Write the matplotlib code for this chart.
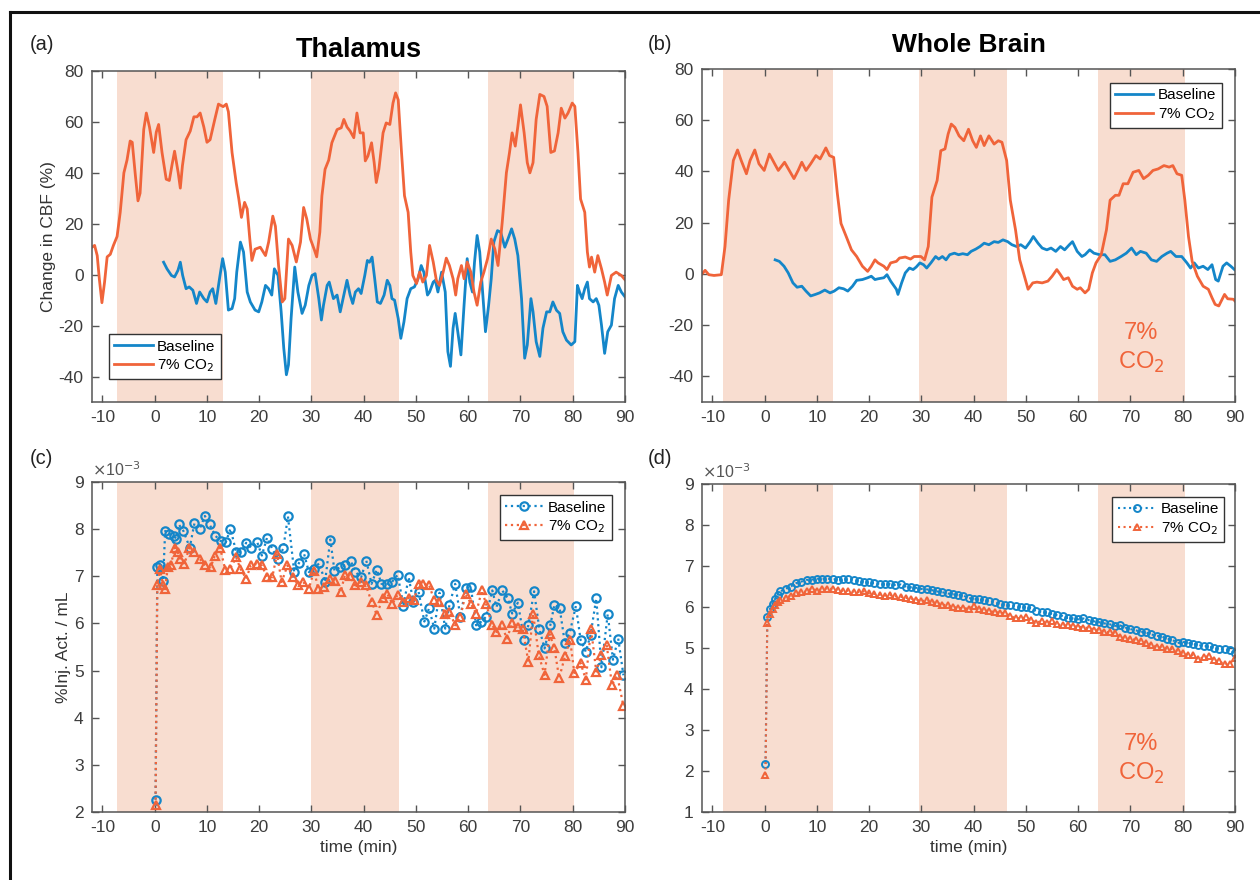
import matplotlib
matplotlib.use("Agg")
import matplotlib.pyplot as plt
from matplotlib.lines import Line2D
import numpy as np

plt.rcParams['font.family'] = ['Liberation Sans', 'DejaVu Sans']
plt.rcParams['axes.unicode_minus'] = False

BLUE = '#1486c9'
ORANGE = '#f0643a'
SHADE = '#f8ddd0'
AXC = '#555555'

# ---------- (a) Thalamus, change in CBF (%) ----------
ta_co2 = [-12, -11.5, -11, -10.6, -10.1, -9.6, -9.1, -8.5, -7.9, -7.2, -6.6, -5.9, -5.3, -4.7, -4.3,
          -3.7, -3.2, -2.8, -2.1, -1.6, -1.0, -0.2, 0.3, 0.75, 1.4, 2.2, 2.8, 3.3, 3.8, 4.5, 4.9,
          5.3, 6.0, 6.8, 7.5, 8.1, 8.7, 9.4, 10.0, 10.6, 11.5, 12.2, 13.1, 13.7, 14.1, 14.8, 15.6,
          16.1, 16.6, 17.2, 17.7, 18.2, 18.6, 19.2, 20.2, 21.2, 21.8, 22.6, 23.1, 23.7, 24.4, 24.9,
          25.6, 26.3, 27.1, 27.9, 28.5, 29.1, 29.8, 30.6, 31.0, 31.6, 32.0, 32.6, 33.3, 33.9, 34.9,
          35.7, 36.2, 36.8, 37.4, 38.1, 38.7, 39.3, 39.9, 40.3, 40.8, 41.5, 42.0, 42.4, 42.9, 43.7,
          44.3, 45.0, 45.6, 46.1, 46.6, 47.2, 47.8, 48.5, 49.0, 49.4, 50.1, 50.7, 51.3, 52.0, 52.6,
          53.3, 53.9, 54.5, 55.2, 55.8, 56.4, 57.1, 57.6, 58.0, 58.7, 59.2, 59.8, 60.5, 61.1, 61.7,
          62.4, 63.0, 63.7, 64.4, 65.1, 65.7, 66.5, 67.3, 67.9, 68.4, 69.0, 69.5, 70.0, 70.7, 71.3,
          71.8, 72.4, 73.0, 73.7, 74.5, 75.1, 75.8, 76.5, 77.2, 77.8, 78.5, 79.1, 79.9, 80.4, 81.0,
          81.5, 82.3, 82.8, 83.2, 83.6, 84.2, 84.8, 85.5, 86.1, 86.6, 87.4, 88.3, 89.3, 90.0]
ya_co2 = [10.8, 11.5, 7.5, -1.6, -11, -3, 7, 8, 11.5, 15, 24.5, 40, 45, 52.5, 52,
          39, 29, 32, 57, 63.5, 58, 48, 56, 59, 48, 37.5, 37, 43, 48.5, 40, 34,
          42.7, 53, 56.4, 62, 62, 63.5, 58, 52, 53, 61, 67, 66, 67, 64, 48, 36,
          29.7, 22.5, 28.4, 25.8, 14, 5.6, 10, 10.8, 7.5, 12.8, 23, 19, 3.6, -10.7, -9.4,
          14, 11.5, 5, 12.8, 26.4, 21.9, 14, 9.5, 7, 16.7, 31, 41.4, 45, 51.8, 57,
          57.7, 61, 58, 56.4, 53.8, 63.5, 55.7, 55.7, 44.7, 46.6, 51.8, 44, 36.2, 41.4, 55.7,
          59.6, 59, 67.4, 71.4, 68.7, 49, 31, 24.5, 8.9, -0.3, -3.5, 1, -2.9, -0.3, 11.5,
          5, -2.2, -4.2, 1, 6.5, 3.6, -1.6, -8, -1.6, 3.6, -1.6, 5, 1, -6.8, -12,
          -2.9, 1, 6.3, 14, 10, 3.6, 20.5, 40, 48, 55.7, 50.5, 58.3, 66.7, 55.7, 44,
          40, 44, 61, 70.8, 70, 66.1, 48, 48.6, 55.7, 65.4, 61.5, 63.5, 67.4, 66.1, 48,
          29.7, 24.5, 8.9, 3, 6.9, 1, 7.5, 2.3, -2.9, -8, -0.3, 1, -0.3, -2.0]

ta_base = [1.7, 2.35, 3.2, 3.8, 4.45, 4.9, 5.35, 6.0, 6.6, 7.3, 8.0, 8.6, 9.4, 10.0, 10.6, 11.1,
           11.7, 12.4, 13.0, 13.5, 14.1, 14.8, 15.3, 15.7, 16.4, 17.0, 17.7, 18.3, 19.2, 19.9, 20.5,
           21.2, 21.8, 22.4, 22.9, 23.6, 24.2, 24.7, 25.2, 25.6, 26.1, 26.8, 27.4, 28.2, 28.8, 29.5,
           30.1, 30.7, 31.4, 31.9, 32.3, 33.0, 33.4, 34.2, 34.9, 35.5, 36.2, 36.8, 37.4, 37.9, 38.4,
           39.0, 39.5, 40.2, 40.7, 41.1, 41.6, 42.1, 42.6, 43.2, 43.9, 44.5, 45.0, 45.4, 45.9, 46.6,
           47.1, 47.7, 48.3, 49.0, 49.7, 50.4, 51.0, 51.5, 52.2, 52.6, 53.3, 53.7, 54.2, 54.9, 55.6,
           56.1, 56.6, 57.1, 57.5, 58.0, 58.6, 59.2, 59.8, 60.3, 60.8, 61.2, 61.7, 62.2, 62.7, 63.3,
           63.9, 64.4, 64.9, 65.6, 66.2, 67.0, 67.6, 68.3, 68.9, 69.5, 70.2, 70.8, 71.3, 72.0, 72.4,
           73.0, 73.7, 74.3, 75.0, 75.6, 76.2, 76.9, 77.5, 78.1, 78.8, 79.7, 80.4, 80.9, 81.3, 81.8,
           82.3, 82.8, 83.2, 83.9, 84.5, 85.0, 85.5, 86.1, 86.7, 87.4, 88.0, 88.7, 89.3, 90.0]
ya_base = [4.9, 2.3, -0.3, -0.9, 1.7, 4.9, -0.3, -5.5, -4.8, -6.1, -11.3, -6.8, -9.4, -10.7, -6.8, -5.5,
           -11.3, -1.6, 6.3, 1, -13.9, -13.3, -9.4, 1, 12.8, 8.9, -6.8, -10.7, -13.9, -14.6, -10.7,
           -4.2, -5.5, -8, 2.3, -0.3, -14.6, -28.9, -39.3, -35.4, -17.2, 3, -6.8, -15.2, -12, -4.2,
           -0.3, 0.4, -9.4, -17.8, -12, -4.2, -2.9, -9.4, -8, -14.6, -8, -2.2, -8, -11.3, -6.8,
           -5.5, -7.4, -0.3, 5.6, 4.9, 6.9, -1.6, -10.7, -11.3, -8, -2.2, -4.2, -9.4, -10, -17.2,
           -25, -18.5, -9.4, -5.5, -4.8, -1.6, 3.6, 1, -8, -6.8, -2.9, -2.2, -6.8, 1, -6.8,
           -30.2, -36, -21, -15.2, -22.4, -31.5, -12, 6.3, -2.9, -6.8, 4.9, 15.4, 8.9, -5.5, -22.4,
           -12, -1.6, 12.8, 17.3, 16.7, 10.8, 14, 18, 14, 7.5, -9.4, -32.8, -27.6, -9.4, -14.6,
           -26.3, -32.1, -21, -14.6, -14.6, -10.7, -14, -15.2, -22.4, -25.7, -27.6, -26.3, -4.2, -6.8, -9.4,
           -5.5, -2.9, -9.4, -10.7, -9.4, -12, -19.8, -30.9, -22.4, -19.8, -9.4, -4.2, -6.8, -8.7]

# ---------- (b) Whole brain, change in CBF (%) ----------
tb_co2 = [-12, -11.4, -10.7, -9.7, -8.3, -7.6, -6.9, -6.0, -5.2, -4.5, -3.5, -2.8, -1.9, -1.1, -0.1,
          0.9, 1.9, 2.6, 3.8, 4.7, 5.6, 6.4, 7.1, 7.9, 8.8, 9.8, 10.6, 11.7, 12.4, 13.2, 13.9, 14.6,
          15.6, 16.6, 17.6, 18.7, 19.7, 20.4, 21.1, 21.7, 22.8, 23.4, 24.1, 25.2, 25.8, 26.9, 27.9,
          28.6, 29.9, 30.6, 31.3, 32.0, 33.0, 33.7, 34.5, 35.1, 35.7, 36.4, 37.2, 38.1, 39.0, 39.8,
          40.5, 41.3, 42.0, 42.9, 43.9, 44.7, 45.4, 46.3, 47.0, 48.0, 48.8, 49.7, 50.4, 51.3, 52.1,
          53.1, 54.2, 55.0, 55.9, 56.6, 57.2, 58.1, 58.9, 59.8, 60.4, 61.3, 62.0, 62.7, 63.4, 64.4,
          65.4, 66.1, 67.1, 67.8, 68.6, 69.5, 70.5, 71.6, 72.5, 73.4, 74.3, 75.3, 76.4, 77.4, 78.1,
          78.9, 79.8, 80.4, 81.1, 81.8, 82.8, 83.9, 84.9, 85.6, 86.2, 86.9, 88.0, 88.6, 89.7, 90.0]
yb_co2 = [0, 1.4, -0.3, -0.6, -0.3, 10.7, 28.8, 44.3, 48.4, 44.3, 39.1, 44.3, 48.4, 43, 40.4,
          46.8, 43, 40.4, 43.6, 40.4, 37.2, 40.4, 43.6, 40.4, 43, 46.2, 44.9, 49.2, 46.2, 45.5, 31.4, 19.7,
          14.6, 9.4, 6.8, 3, 1, 3, 5.5, 4.3, 3, 1.7, 4.3, 4.9, 6.2, 6.6, 5.8,
          6.8, 6.8, 5.5, 10.7, 30, 36.5, 48.1, 48.8, 54.6, 58.5, 57.2, 53.9, 52, 56.5, 52,
          49.4, 53.9, 50.1, 53.9, 50.7, 52, 51.4, 44.3, 28.8, 17.2, 5.5, -0.9, -6, -3.5, -3.2,
          -3.5, -2.8, -0.9, 1.7, -0.3, -2.2, -1.5, -4.8, -6, -5.4, -7.4, -6, 0.4, 4.3, 7.5,
          17.2, 28.8, 30.7, 30.7, 35.2, 35.2, 39.7, 40.4, 37.2, 38.5, 40.4, 41, 42.3, 41.7, 42.3,
          39.1, 38.5, 28.8, 14.6, 4.9, -0.9, -4.8, -6, -9.3, -11.9, -12.5, -8, -9.7, -9.9, -10.6]

tb_base = [2.0, 2.8, 3.7, 4.5, 5.4, 6.2, 7.1, 7.9, 8.8, 9.7, 10.5, 11.5, 12.5, 13.3, 14.2, 15.1,
           15.9, 16.8, 17.6, 18.7, 19.7, 20.4, 21.1, 21.7, 22.8, 23.4, 24.1, 25.2, 25.5, 26.2, 26.9,
           27.7, 28.4, 29.0, 29.7, 30.4, 31.0, 31.8, 32.7, 33.3, 34.0, 34.7, 35.4, 36.3, 37.1, 37.9,
           38.8, 39.5, 40.4, 41.2, 42.0, 42.9, 43.9, 44.7, 45.6, 46.5, 47.3, 48.2, 49.0, 49.9, 50.8,
           51.4, 52.3, 53.1, 54.0, 54.8, 55.7, 56.6, 57.4, 58.3, 58.9, 59.8, 60.7, 61.3, 62.2, 63.0,
           64.1, 65.1, 66.1, 67.1, 68.2, 69.2, 70.2, 71.1, 71.9, 73.0, 74.0, 75.0, 76.0, 77.0, 77.7,
           78.7, 79.8, 80.8, 81.5, 82.2, 83.0, 83.9, 84.8, 85.6, 86.3, 86.8, 87.7, 88.4, 89.2, 89.9]
yb_base = [5.5, 4.9, 3, 0.4, -3.5, -5.2, -4.8, -6.7, -8.6, -8, -7.4, -6.3, -7.4, -6.7, -5.4, -5.8,
           -6.7, -4.8, -2.5, -2.2, -1.5, -0.9, -2.2, -1.9, -1.5, -0.3, -2.8, -6, -8, -3.5, 0.4,
           2.3, 1.7, 2.7, 4.3, 3.6, 2.3, 4.3, 6.8, 5.8, 6.8, 5.5, 7.5, 8.1, 7.5, 7.9,
           7.5, 8.8, 9.7, 10.7, 12, 11.4, 12.6, 12.3, 13.3, 12.6, 11.4, 10.7, 11.4, 10.1, 12.6,
           14.6, 12, 10.1, 9.4, 10.1, 8.8, 10.7, 9.4, 11.4, 12.6, 8.8, 6.8, 7.5, 9.4, 8.1,
           7.5, 7.5, 4.9, 5.5, 6.8, 8.1, 10.1, 7.5, 8.8, 8.1, 5.5, 4.9, 6.8, 8.1, 8.8,
           6.8, 6.8, 4.3, 2.3, 4.3, 2.3, 3, 1.7, 3.6, -2.2, -2.8, 3, 4.3, 3, 1.7]

# ---------- (c) Thalamus, %Inj. Act. / mL (x 1e-3) ----------
tc_base = [0.16, 0.5, 1.1, 1.6, 2.0, 2.8, 3.6, 4.1, 4.6, 5.5, 6.7, 7.6, 8.6, 9.6, 10.5, 11.6, 12.6,
           13.6, 14.5, 15.6, 16.6, 17.5, 18.5, 19.6, 20.5, 21.5, 22.5, 23.6, 24.6, 25.5, 26.7, 27.6,
           28.6, 29.5, 30.5, 31.5, 32.6, 33.6, 34.4, 35.4, 36.4, 37.5, 38.4, 39.5, 40.5, 41.5, 42.5,
           43.4, 44.5, 45.4, 46.5, 47.6, 48.6, 49.5, 50.5, 51.6, 52.5, 53.5, 54.5, 55.6, 56.4, 57.5,
           58.5, 59.5, 60.5, 61.5, 62.5, 63.4, 64.6, 65.4, 66.5, 67.6, 68.4, 69.5, 70.7, 71.5, 72.6,
           73.6, 74.6, 75.7, 76.5, 77.5, 78.5, 79.4, 80.6, 81.5, 82.5, 83.4, 84.5, 85.5, 86.7, 87.7,
           88.7, 89.7]
yc_base = [2.26, 7.19, 7.23, 6.91, 7.96, 7.89, 7.86, 7.80, 8.10, 7.96, 7.61, 8.12, 8.00, 8.28, 8.10,
           7.86, 7.75, 7.72, 8.01, 7.51, 7.52, 7.71, 7.61, 7.73, 7.44, 7.82, 7.58, 7.37, 7.59, 8.27,
           7.09, 7.28, 7.47, 7.09, 7.16, 7.28, 6.88, 7.78, 7.12, 7.19, 7.23, 7.33, 7.09, 6.98, 7.33,
           6.84, 7.14, 6.84, 6.84, 6.88, 7.03, 6.37, 6.98, 6.46, 6.67, 6.04, 6.32, 5.89, 6.65, 5.89,
           6.39, 6.84, 6.14, 6.75, 6.77, 5.96, 6.04, 6.14, 6.70, 6.35, 6.70, 6.53, 6.21, 6.44, 5.65,
           5.96, 6.68, 5.89, 5.47, 5.96, 6.40, 6.32, 5.58, 5.79, 6.37, 5.65, 5.40, 5.75, 6.53, 5.07,
           6.20, 5.23, 5.68, 4.90]
tc_co2 = [0.16, 0.5, 1.0, 1.6, 2.0, 2.5, 3.1, 3.8, 4.4, 4.9, 5.7, 6.6, 7.6, 8.6, 9.7, 10.7, 11.5,
          12.5, 13.5, 14.4, 15.6, 16.4, 17.5, 18.4, 19.5, 20.5, 21.5, 22.5, 23.4, 24.3, 25.4, 26.4,
          27.5, 28.4, 29.5, 30.5, 31.3, 32.4, 33.5, 34.5, 35.6, 36.4, 37.4, 38.3, 39.5, 40.4, 41.5,
          42.5, 43.6, 44.5, 45.5, 46.5, 47.5, 48.6, 49.6, 50.5, 51.4, 52.5, 53.5, 54.5, 55.5, 56.4,
          57.5, 58.5, 59.5, 60.5, 61.5, 62.6, 63.4, 64.6, 65.4, 66.4, 67.4, 68.4, 69.5, 70.4, 71.5,
          72.4, 73.5, 74.6, 75.6, 76.5, 77.4, 78.5, 79.5, 80.3, 81.5, 82.5, 83.5, 84.5, 85.5, 86.5,
          87.5, 88.5, 89.7]
yc_co2 = [2.14, 6.81, 7.16, 6.81, 6.74, 7.19, 7.23, 7.61, 7.51, 7.37, 7.26, 7.61, 7.51, 7.37, 7.23,
          7.19, 7.44, 7.61, 7.14, 7.16, 7.40, 7.16, 6.95, 7.23, 7.26, 7.23, 6.98, 6.98, 7.47, 6.88,
          7.23, 6.98, 6.81, 6.88, 6.74, 7.12, 6.74, 6.77, 6.95, 6.91, 6.67, 7.03, 7.00, 6.81, 6.88,
          6.81, 6.46, 6.18, 6.53, 6.63, 6.42, 6.61, 6.46, 6.54, 6.49, 6.84, 6.84, 6.82, 6.49, 6.46,
          6.21, 6.25, 5.96, 6.14, 6.63, 6.42, 6.21, 6.70, 6.42, 5.96, 5.82, 5.96, 5.68, 6.00, 5.93,
          5.89, 5.19, 6.21, 5.33, 4.91, 5.77, 5.47, 4.84, 5.30, 5.65, 4.95, 5.16, 4.81, 5.89, 4.98,
          5.33, 5.54, 4.70, 4.90, 4.25]

# ---------- (d) Whole brain, %Inj. Act. / mL (x 1e-3) ----------
td = [0.15, 0.5, 1, 1.5, 2, 2.5] + list(range(3, 91))
yd_base = [2.17, 5.75, 5.95, 6.08, 6.2, 6.3,
           6.38, 6.45, 6.5, 6.58, 6.62, 6.66, 6.67, 6.69, 6.69, 6.69, 6.68, 6.67, 6.68, 6.69, 6.67,
           6.63, 6.6, 6.6, 6.58, 6.57, 6.55, 6.56, 6.54, 6.55, 6.5, 6.48, 6.47, 6.44, 6.43, 6.41,
           6.38, 6.36, 6.33, 6.31, 6.3, 6.28, 6.22, 6.2, 6.19, 6.16, 6.15, 6.12, 6.08, 6.06, 6.05,
           6.03, 6.01, 6.0, 5.97, 5.9, 5.88, 5.87, 5.83, 5.8, 5.78, 5.73, 5.72, 5.7, 5.72, 5.68,
           5.65, 5.63, 5.6, 5.58, 5.54, 5.55, 5.5, 5.46, 5.43, 5.4, 5.38, 5.33, 5.3, 5.28, 5.23,
           5.2, 5.12, 5.15, 5.13, 5.1, 5.07, 5.05, 5.04, 5.0, 4.98, 4.97, 4.94, 4.88]
yd_co2 = [1.9, 5.62, 5.82, 5.95, 6.05, 6.12,
          6.18, 6.22, 6.28, 6.33, 6.36, 6.38, 6.45, 6.4, 6.44, 6.45, 6.44, 6.42, 6.38, 6.4, 6.37,
          6.36, 6.38, 6.33, 6.32, 6.3, 6.28, 6.29, 6.26, 6.25, 6.22, 6.2, 6.18, 6.14, 6.17, 6.12,
          6.1, 6.06, 6.04, 6.0, 5.98, 5.97, 5.96, 6.02, 5.95, 5.92, 5.9, 5.88, 5.86, 5.85, 5.78,
          5.73, 5.72, 5.75, 5.68, 5.62, 5.66, 5.6, 5.65, 5.58, 5.55, 5.56, 5.53, 5.52, 5.5, 5.49,
          5.45, 5.44, 5.4, 5.38, 5.36, 5.27, 5.24, 5.23, 5.2, 5.16, 5.12, 5.08, 5.03, 5.02, 4.98,
          4.97, 4.93, 4.87, 4.83, 4.82, 4.72, 4.78, 4.8, 4.7, 4.68, 4.6, 4.62, 4.75]

# CO2 challenge windows (min)
shade_thal = [(-7.2, 13.1), (30.0, 46.7), (63.7, 80.2)]
shade_whole = [(-8.0, 13.1), (29.6, 46.3), (63.7, 80.4)]

xticks = np.arange(-10, 91, 10)

fig = plt.figure(figsize=(12.6, 8.8), dpi=100)
W, H = 1260, 880


def px_axes(l, t, r, b):
    return fig.add_axes([l / W, 1 - b / H, (r - l) / W, (b - t) / H])


def style(ax, ylim, yticks, shades):
    for a, b in shades:
        ax.axvspan(a, b, color=SHADE, lw=0, zorder=0)
    ax.set_xlim(-12, 90)
    ax.set_ylim(*ylim)
    ax.set_xticks(xticks)
    ax.set_yticks(yticks)
    ax.tick_params(direction='in', top=True, right=True, length=5, width=1, color=AXC,
                   labelsize=12.5, labelcolor='#3c3c3c', pad=6)
    for s in ax.spines.values():
        s.set_color(AXC)
        s.set_linewidth(1.1)


leg_kw = dict(fontsize=11, frameon=True, fancybox=False, edgecolor='#333333',
              framealpha=1, borderpad=0.35, labelspacing=0.25, handlelength=2.5,
              handletextpad=0.3, borderaxespad=0)

# (a)
axa = px_axes(92, 71, 625, 402)
style(axa, (-50, 80), np.arange(-40, 81, 20), shade_thal)
axa.plot(ta_base, ya_base, color=BLUE, lw=2, label='Baseline')
axa.plot(ta_co2, ya_co2, color=ORANGE, lw=2, label='7% CO$_2$')
leg = axa.legend(loc='lower left', bbox_to_anchor=(0.032, 0.068), **leg_kw)
leg.get_frame().set_linewidth(1)
axa.set_ylabel('Change in CBF (%)', fontsize=12.5, color='#333333', labelpad=2)
axa.set_title('Thalamus', fontsize=19.5, fontweight='bold', pad=10)

# (b)
axb = px_axes(702, 69, 1235, 402)
style(axb, (-50, 80), np.arange(-40, 81, 20), shade_whole)
axb.plot(tb_base, yb_base, color=BLUE, lw=2, label='Baseline')
axb.plot(tb_co2, yb_co2, color=ORANGE, lw=2, label='7% CO$_2$')
leg = axb.legend(loc='upper right', bbox_to_anchor=(0.975, 0.958), **leg_kw)
leg.get_frame().set_linewidth(1)
axb.text(72, -29, '7%\nCO$_2$', color=ORANGE, fontsize=17, ha='center', va='center',
         linespacing=1.3)
axb.set_title('Whole Brain', fontsize=19, fontweight='bold', pad=12)

mk = dict(lw=1.6, ls=':', markersize=6, markerfacecolor='none', markeredgewidth=1.6)

# (c)
axc = px_axes(92, 482, 625, 812)
style(axc, (2, 9), np.arange(2, 10, 1), shade_thal)
axc.plot(tc_base, yc_base, color=BLUE, marker='o', label='Baseline', **mk)
axc.plot(tc_co2, yc_co2, color=ORANGE, marker='^', label='7% CO$_2$', **mk)
leg = axc.legend(loc='upper right', bbox_to_anchor=(0.975, 0.96), **leg_kw)
leg.get_frame().set_linewidth(1)
axc.set_ylabel('%Inj. Act. / mL', fontsize=12.5, color='#333333', labelpad=2)
axc.set_xlabel('time (min)', fontsize=12.5, color='#333333', labelpad=3)
axc.text(0, 1.008, r'$\times$10$^{-3}$', transform=axc.transAxes, fontsize=11.5,
         color='#555555', ha='left', va='bottom')

# (d)
mkd = dict(lw=1.5, ls=':', markersize=5, markerfacecolor='none', markeredgewidth=1.4)
axd = px_axes(702, 484, 1235, 812)
style(axd, (1, 9), np.arange(1, 10, 1), shade_whole)
axd.plot(td, yd_base, color=BLUE, marker='o', label='Baseline', **mkd)
axd.plot(td, yd_co2, color=ORANGE, marker='^', label='7% CO$_2$', **mkd)
leg = axd.legend(loc='upper right', bbox_to_anchor=(0.98, 0.96), **leg_kw)
leg.get_frame().set_linewidth(1)
axd.set_xlabel('time (min)', fontsize=12.5, color='#333333', labelpad=3)
axd.text(0, 1.008, r'$\times$10$^{-3}$', transform=axd.transAxes, fontsize=11.5,
         color='#555555', ha='left', va='bottom')
axd.text(72, 2.27, '7%\nCO$_2$', color=ORANGE, fontsize=17, ha='center', va='center',
         linespacing=1.3)

# panel letters
for lab, x, y in [('(a)', 30, 45), ('(b)', 648, 45), ('(c)', 30, 458), ('(d)', 648, 458)]:
    fig.text(x / W, 1 - y / H, lab, fontsize=14.5, ha='left', va='center', color='#222222')

# outer frame (left and top edges)
fig.add_artist(Line2D([10 / W, 10 / W], [0, 1 - 12 / H], color='#111111', lw=2.2,
                      transform=fig.transFigure))
fig.add_artist(Line2D([10 / W, 1], [1 - 12 / H, 1 - 12 / H], color='#111111', lw=2.2,
                      transform=fig.transFigure))

fig.savefig('out.png', dpi=100)
